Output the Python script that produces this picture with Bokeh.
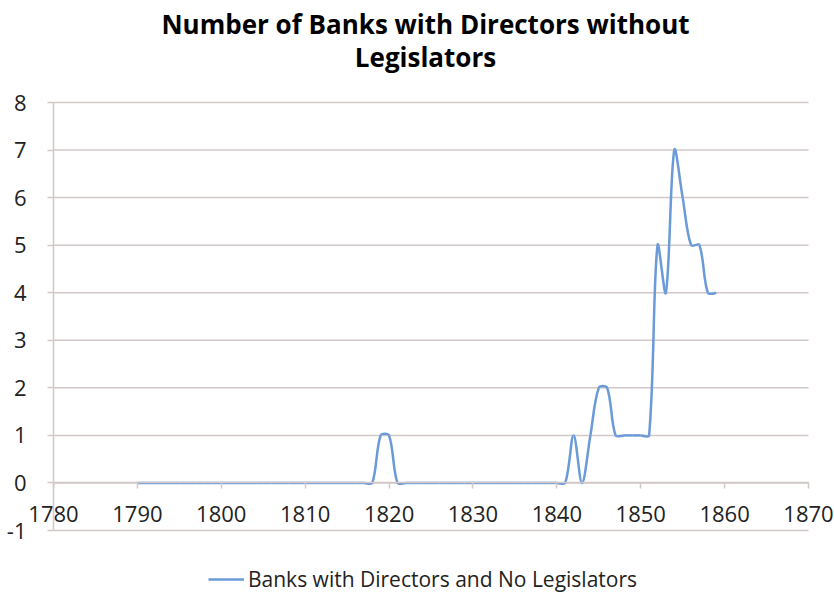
import numpy as np
from bokeh.plotting import figure
from bokeh.models import (Range1d, FixedTicker, Legend, LegendItem, Label,
                          NumeralTickFormatter)
from bokeh.embed import file_html
from bokeh.resources import INLINE

years = list(range(1790, 1860))
nonzero = {1819: 1, 1820: 1, 1842: 1, 1844: 1, 1845: 2, 1846: 2, 1847: 1, 1848: 1,
           1849: 1, 1850: 1, 1851: 1, 1852: 5, 1853: 4, 1854: 7, 1855: 6,
           1856: 5, 1857: 5, 1858: 4, 1859: 4}
values = [nonzero.get(y, 0) for y in years]

x_ticks = list(range(1780, 1871, 10))
y_ticks = list(range(-1, 9))
title_line1 = "Number of Banks with Directors without"
title_line2 = "Legislators"
series_name = "Banks with Directors and No Legislators"

FONT = "Open Sans"
LINE_COLOR = "#6a9ad8"
GRID_COLOR = "#d2c8c8"
TEXT_COLOR = "#222222"

W, H = 834, 595
# pixel scale: axis from 1780 (px 53) to 1870 (px 808); -1 (px 530) to 8 (px 102)
sx = (808 - 53) / 90.0
sy = (530 - 102) / 9.0
x_start = x_ticks[0] - 53 / sx
x_end = x_ticks[-1] + (W - 808) / sx
y_end = y_ticks[-1] + 102 / sy
y_start = y_ticks[0] - (H - 530) / sy

p = figure(width=W, height=H, output_backend="svg", toolbar_location=None,
           x_range=Range1d(x_start, x_end), y_range=Range1d(y_start, y_end),
           min_border_left=0, min_border_right=0, min_border_top=0,
           min_border_bottom=0)
p.outline_line_color = None
p.background_fill_color = "white"
p.border_fill_color = "white"
p.grid.visible = False

# title (two centred lines)
for txt, base in ((title_line1, H - 23), (title_line2, H - 56)):
    p.add_layout(Label(x=425, y=base, x_units="screen", y_units="screen", text=txt,
                       text_align="center", text_baseline="alphabetic",
                       text_font=FONT, text_font_size="26px", text_font_style="bold",
                       text_color="black"))

# horizontal gridlines between the first and last x tick
p.segment(x0=[x_ticks[0]] * len(y_ticks), x1=[x_ticks[-1]] * len(y_ticks),
          y0=y_ticks, y1=y_ticks, line_color=GRID_COLOR, line_width=1.5)

# smoothed line via cubic bezier segments (Excel-like smoothing, computed in screen px)
X = np.array(years, dtype=float)
Y = np.array(values, dtype=float)
Xs, Ys = X * sx, Y * sy
n = len(X)
d = np.hypot(np.diff(Xs), np.diff(Ys))
tx = np.zeros(n); ty = np.zeros(n)
tx[1:-1] = Xs[2:] - Xs[:-2]; ty[1:-1] = Ys[2:] - Ys[:-2]
din = np.concatenate([[0.0], d])
dout = np.concatenate([d, [0.0]])
tot = np.where(din + dout > 0, din + dout, 1.0)
fa = dout / tot / 3.0
fb = din / tot / 3.0
cx0 = (Xs[:-1] + tx[:-1] * fa[:-1]) / sx
cy0 = (Ys[:-1] + ty[:-1] * fa[:-1]) / sy
cx1 = (Xs[1:] - tx[1:] * fb[1:]) / sx
cy1 = (Ys[1:] - ty[1:] * fb[1:]) / sy
r = p.bezier(x0=X[:-1], y0=Y[:-1], x1=X[1:], y1=Y[1:], cx0=cx0, cy0=cy0, cx1=cx1, cy1=cy1,
             line_color=LINE_COLOR, line_width=2.5)

# x axis crossing at zero
xa = p.xaxis[0]
xa.fixed_location = 0
xa.ticker = FixedTicker(ticks=x_ticks)
xa.formatter = NumeralTickFormatter(format="0")
xa.bounds = (x_ticks[0], x_ticks[-1])
xa.axis_line_color = GRID_COLOR
xa.axis_line_width = 1.5
xa.major_tick_line_color = GRID_COLOR
xa.major_tick_line_width = 1.5
xa.major_tick_out = 6
xa.major_tick_in = 0
xa.minor_tick_line_color = None
xa.major_label_text_font = FONT
xa.major_label_text_font_size = "22px"
xa.major_label_text_color = TEXT_COLOR
xa.major_label_standoff = 17

# y axis at the first x tick
ya = p.yaxis[0]
ya.fixed_location = x_ticks[0]
ya.ticker = FixedTicker(ticks=y_ticks)
ya.formatter = NumeralTickFormatter(format="0")
ya.bounds = (y_ticks[0], y_ticks[-1])
ya.axis_line_color = GRID_COLOR
ya.axis_line_width = 1.5
ya.major_tick_line_color = GRID_COLOR
ya.major_tick_line_width = 1.5
ya.major_tick_out = 6
ya.major_tick_in = 0
ya.minor_tick_line_color = None
ya.major_label_text_font = FONT
ya.major_label_text_font_size = "22px"
ya.major_label_text_color = TEXT_COLOR
ya.major_label_standoff = 21

legend = Legend(items=[LegendItem(label=series_name, renderers=[r])],
                location=(208, 2), orientation="horizontal")
legend.border_line_color = None
legend.background_fill_alpha = 0
legend.padding = 0
legend.margin = 0
legend.glyph_width = 36
legend.label_standoff = 4
legend.label_text_font = FONT
legend.label_text_font_size = "21px"
legend.label_text_color = TEXT_COLOR
p.add_layout(legend, "center")

open("out.html", "w").write(file_html(p, INLINE))
